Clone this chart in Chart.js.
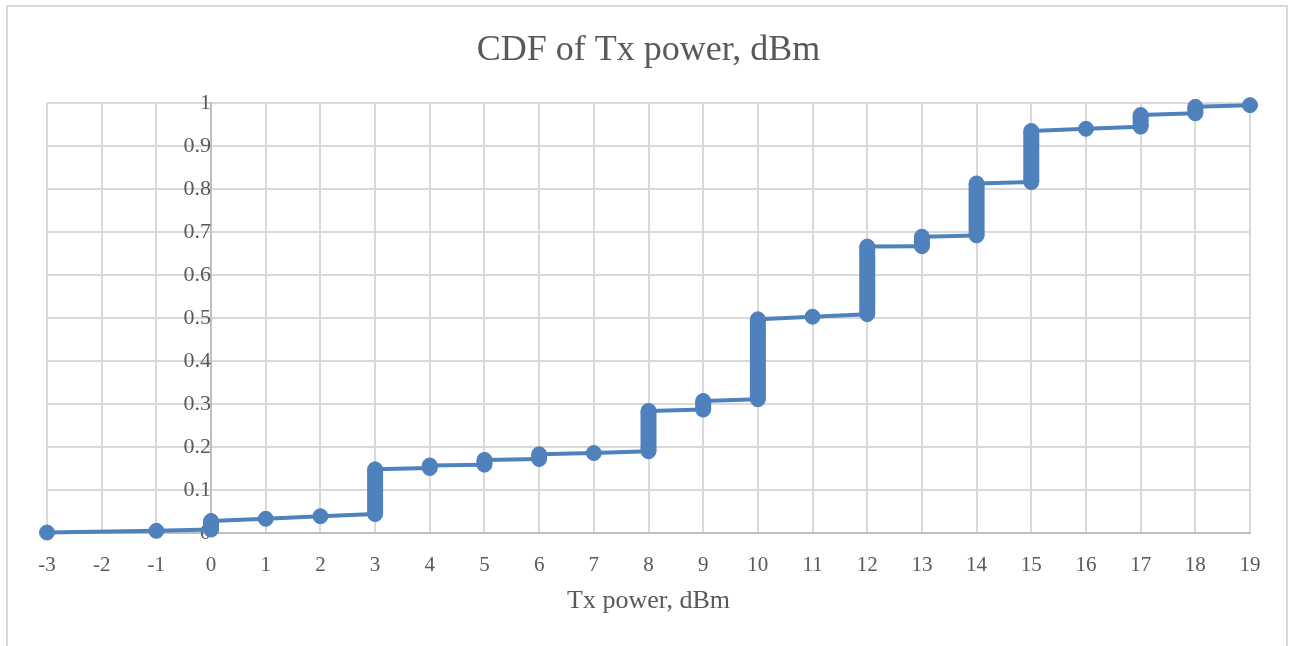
<!DOCTYPE html>
<html>
<head>
<meta charset="utf-8">
<script src="https://cdn.jsdelivr.net/npm/chart.js@4/dist/chart.umd.min.js"></script>
<style>
  html, body { margin: 0; padding: 0; background: #ffffff; overflow: hidden; }
  #wrap { position: relative; width: 1293px; height: 646px; }
  #c { position: absolute; left: 0; top: 0; }
  #frame { position: absolute; left: 6px; top: 5px; width: 1282px; height: 700px;
           border: 2px solid #d9d9d9; pointer-events: none; box-sizing: border-box; }
</style>
</head>
<body>
<div id="wrap">
  <canvas id="c" width="1293" height="646"></canvas>
  <div id="frame"></div>
</div>
<script>
// ---- data (Tx power in dBm, cumulative fraction) ----
const chartTitle = 'CDF of Tx power, dBm';
const xAxisTitle = 'Tx power, dBm';
const txPower = [-3, -1, 0, 0, 1, 2, 3, 3, 4, 4, 5, 5, 6, 6, 7, 8, 8, 9, 9, 10, 10,
                 11, 12, 12, 13, 13, 14, 14, 15, 15, 16, 17, 17, 18, 18, 19];
const cdf = [0.001, 0.005, 0.008, 0.028, 0.033, 0.039, 0.044, 0.148, 0.151, 0.157,
             0.159, 0.170, 0.172, 0.183, 0.186, 0.190, 0.284, 0.287, 0.307, 0.311,
             0.497, 0.503, 0.509, 0.666, 0.667, 0.689, 0.692, 0.813, 0.816, 0.935,
             0.940, 0.945, 0.972, 0.976, 0.991, 0.995];
const xTickLabels = ['-3','-2','-1','0','1','2','3','4','5','6','7','8','9','10',
                     '11','12','13','14','15','16','17','18','19'];
const yTickLabels = ['0','0.1','0.2','0.3','0.4','0.5','0.6','0.7','0.8','0.9','1'];

const points = txPower.map((x, i) => ({ x: x, y: cdf[i] }));

const blue = '#4f81bd';
const textColor = '#595959';
const gridColor = '#d9d9d9';
const axisColor = '#bfbfbf';

Chart.defaults.font.family = "'Liberation Serif', 'DejaVu Serif', serif";
Chart.defaults.color = textColor;

new Chart(document.getElementById('c'), {
  type: 'scatter',
  data: {
    datasets: [{
      label: chartTitle,
      data: points,
      showLine: true,
      clip: false,
      borderColor: blue,
      backgroundColor: blue,
      borderWidth: 4,
      pointRadius: 7.5,
      pointBorderWidth: 1,
      pointBorderColor: blue,
      pointBackgroundColor: blue,
      pointHoverRadius: 7.5,
      segment: {
        borderWidth: ctx => (ctx.p0.parsed.x === ctx.p1.parsed.x ? 16 : 4)
      }
    }]
  },
  options: {
    responsive: false,
    animation: false,
    events: [],
    layout: { padding: { left: 47, right: 43, top: 0, bottom: 29.4 } },
    plugins: {
      legend: { display: false },
      tooltip: { enabled: false },
      title: {
        display: true,
        text: chartTitle,
        color: textColor,
        font: { size: 36, weight: 'normal' },
        padding: { top: 29.4, bottom: 30.4 }
      }
    },
    scales: {
      x: {
        type: 'linear',
        position: 'bottom',
        min: -3,
        max: 19,
        grid: { color: gridColor, lineWidth: 2, drawTicks: false },
        border: { display: true, color: axisColor, width: 2 },
        ticks: {
          stepSize: 1,
          padding: 19.4,
          maxRotation: 0,
          autoSkip: false,
          font: { size: 21 },
          color: textColor,
          callback: (v, i) => xTickLabels[i]
        },
        title: {
          display: true,
          text: xAxisTitle,
          color: textColor,
          font: { size: 26 },
          padding: { top: -11.6, bottom: 0 }
        }
      },
      y: {
        type: 'linear',
        axis: 'y',
        position: { x: 0 },
        min: 0,
        max: 1,
        grid: { color: gridColor, lineWidth: 2, drawTicks: false },
        border: { display: true, color: axisColor, width: 2 },
        ticks: {
          stepSize: 0.1,
          padding: 23,
          font: { size: 22 },
          color: textColor,
          callback: (v, i) => yTickLabels[i]
        }
      }
    }
  }
});
</script>
</body>
</html>
